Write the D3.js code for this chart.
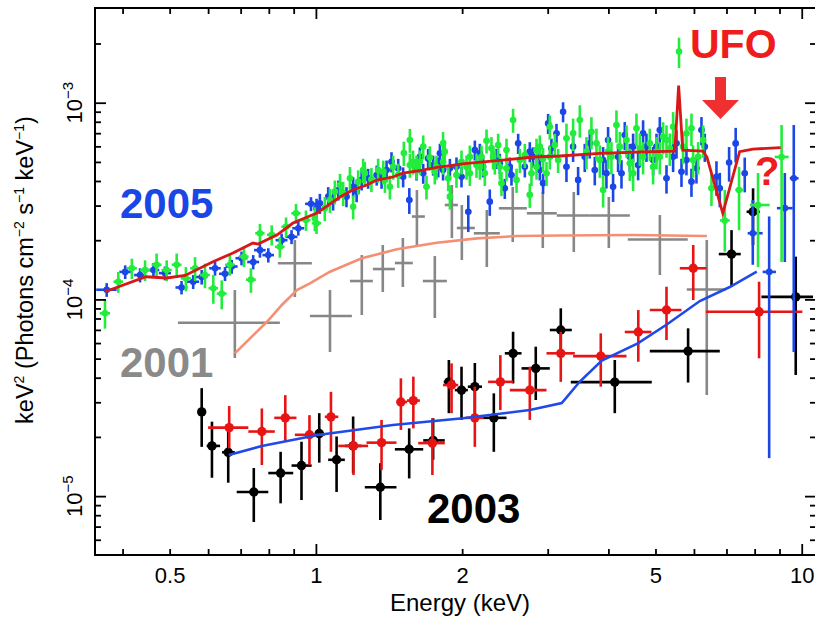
<!DOCTYPE html>
<html>
<head>
<meta charset="utf-8">
<script src="https://cdn.jsdelivr.net/npm/d3@7"></script>
<style>
  body { margin: 0; background: #ffffff; }
  svg { display: block; }
  text { font-family: "Liberation Sans", Arial, Helvetica, sans-serif; }
</style>
</head>
<body>
<svg id="chart" width="815" height="618"></svg>
<script>
// ---------------------------------------------------------------
// Unfolded X-ray spectra, E^2 f(E) (keV^2 photons cm^-2 s^-1 keV^-1)
// ---------------------------------------------------------------

// Axis tick values
const xMajorTicks = [1, 10];
const xMinorTicks = [0.4, 0.5, 0.6, 0.7, 0.8, 0.9, 2, 3, 4, 5, 6, 7, 8, 9];
const xTickLabels = [0.5, 1, 2, 5, 10];
const yMajorTicks = [1e-5, 1e-4, 1e-3];
const yMinorTicks = [6e-6, 7e-6, 8e-6, 9e-6, 2e-5, 3e-5, 4e-5, 5e-5, 6e-5, 7e-5, 8e-5, 9e-5,
                     2e-4, 3e-4, 4e-4, 5e-4, 6e-4, 7e-4, 8e-4, 9e-4, 2e-3];
const yTickExponents = [-5, -4, -3];

// 2005 observation, first camera: [E keV, flux, flux error, E half-width]
const blue05 = [
  [0.371, 1.12e-4, 9e-6, 0.018], [0.405, 1.38e-4, 1.1e-5, 0.011], [0.4345, 1.33e-4, 1.1e-5, 0.012],
  [0.463, 1.41e-4, 1.2e-5, 0.013], [0.489, 1.36e-4, 1.1e-5, 0.014], [0.529, 1.15e-4, 9e-6, 0.015],
  [0.559, 1.23e-4, 1.0e-5, 0.016], [0.582, 1.30e-4, 1.1e-5, 0.016], [0.620, 1.44e-4, 1.2e-5, 0.017],
  [0.650, 1.35e-4, 1.1e-5, 0.018], [0.671, 1.47e-4, 1.2e-5, 0.019], [0.703, 1.62e-4, 1.3e-5, 0.020],
  [0.743, 1.55e-4, 1.3e-5, 0.021], [0.767, 1.78e-4, 1.5e-5, 0.021], [0.798, 1.68e-4, 1.4e-5, 0.022],
  [0.850, 2.00e-4, 1.6e-5, 0.024], [0.891, 2.08e-4, 1.7e-5, 0.025], [0.920, 2.30e-4, 1.9e-5, 0.026],
  [0.977, 3.06e-4, 2.5e-5, 0.027], [1.003, 2.91e-4, 3.4e-5, 0.014], [1.019, 3.08e-4, 3.6e-5, 0.014],
  [1.060, 3.33e-4, 3.9e-5, 0.015], [1.085, 3.20e-4, 3.7e-5, 0.015], [1.112, 3.60e-4, 4.2e-5, 0.016],
  [1.156, 3.33e-4, 3.9e-5, 0.016], [1.193, 3.74e-4, 4.4e-5, 0.017], [1.213, 3.53e-4, 4.1e-5, 0.017],
  [1.242, 4.05e-4, 4.7e-5, 0.017], [1.281, 4.13e-4, 4.8e-5, 0.018], [1.334, 4.29e-4, 5.0e-5, 0.019],
  [1.365, 4.13e-4, 4.8e-5, 0.019], [1.398, 4.55e-4, 5.3e-5, 0.020], [1.431, 5.01e-4, 5.9e-5, 0.020],
  [1.477, 4.64e-4, 5.4e-5, 0.021], [1.512, 4.20e-4, 4.9e-5, 0.021], [1.557, 3.20e-4, 4.8e-5, 0.022],
  [1.611, 4.55e-4, 5.3e-5, 0.023], [1.637, 5.31e-4, 6.2e-5, 0.023], [1.663, 4.38e-4, 5.1e-5, 0.023],
  [1.702, 5.21e-4, 6.1e-5, 0.024], [1.743, 4.82e-4, 5.6e-5, 0.024], [1.786, 4.72e-4, 5.5e-5, 0.025],
  [1.800, 5.53e-4, 6.5e-5, 0.025], [1.827, 4.55e-4, 5.3e-5, 0.026], [1.887, 4.64e-4, 5.4e-5, 0.026],
  [1.947, 4.72e-4, 5.5e-5, 0.027], [1.994, 4.20e-4, 4.9e-5, 0.028], [2.059, 2.79e-4, 5.9e-5, 0.029],
  [2.124, 5.75e-4, 6.7e-5, 0.030], [2.175, 5.53e-4, 6.5e-5, 0.030], [2.209, 4.72e-4, 5.5e-5, 0.031],
  [2.280, 3.14e-4, 4.8e-5, 0.032], [2.354, 5.21e-4, 6.1e-5, 0.033], [2.391, 4.92e-4, 5.8e-5, 0.033],
  [2.448, 3.67e-4, 4.3e-5, 0.034], [2.507, 4.72e-4, 5.5e-5, 0.035], [2.527, 4.29e-4, 5.0e-5, 0.035],
  [2.608, 6.22e-4, 7.3e-5, 0.037], [2.692, 4.72e-4, 5.5e-5, 0.038], [2.756, 5.64e-4, 6.6e-5, 0.039],
  [2.799, 5.31e-4, 6.2e-5, 0.039], [2.890, 5.31e-4, 6.2e-5, 0.040], [2.890, 4.55e-4, 5.3e-5, 0.040],
  [2.935, 3.90e-4, 4.6e-5, 0.041], [3.006, 7.85e-4, 9.2e-5, 0.042], [3.054, 5.87e-4, 6.9e-5, 0.043],
  [3.128, 6.99e-4, 8.2e-5, 0.044], [3.227, 9.00e-4, 1.05e-4, 0.045], [3.279, 4.72e-4, 7.7e-5, 0.046],
  [3.384, 5.98e-4, 9.8e-5, 0.047], [3.465, 4.05e-4, 6.6e-5, 0.049], [3.576, 5.31e-4, 8.7e-5, 0.050],
  [3.662, 6.22e-4, 1.02e-4, 0.051], [3.750, 4.55e-4, 7.5e-5, 0.053], [3.901, 5.11e-4, 8.4e-5, 0.055],
  [3.963, 4.38e-4, 7.2e-5, 0.055], [3.994, 6.46e-4, 1.06e-4, 0.056], [4.090, 3.74e-4, 6.1e-5, 0.057],
  [4.188, 5.31e-4, 8.7e-5, 0.059], [4.256, 4.38e-4, 7.2e-5, 0.060], [4.323, 6.85e-4, 1.12e-4, 0.061],
  [4.427, 5.31e-4, 8.7e-5, 0.062], [4.497, 5.98e-4, 9.8e-5, 0.063], [4.605, 4.82e-4, 7.9e-5, 0.064],
  [4.715, 6.99e-4, 1.15e-4, 0.066], [4.791, 5.98e-4, 9.8e-5, 0.067], [4.944, 5.11e-4, 8.4e-5, 0.069],
  [5.024, 5.98e-4, 9.8e-5, 0.070], [5.104, 7.26e-4, 1.19e-4, 0.071], [5.268, 4.13e-4, 6.8e-5, 0.074],
  [5.436, 5.31e-4, 8.7e-5, 0.076], [5.524, 6.22e-4, 1.02e-4, 0.077], [5.656, 4.46e-4, 7.3e-5, 0.079],
  [5.791, 5.11e-4, 8.4e-5, 0.081], [5.930, 3.97e-4, 6.5e-5, 0.083], [6.072, 4.64e-4, 7.6e-5, 0.085],
  [6.218, 7.26e-4, 1.19e-4, 0.087], [6.317, 5.98e-4, 9.8e-5, 0.088], [6.676, 4.20e-4, 8.4e-5, 0.093],
  [6.782, 3.67e-4, 7.3e-5, 0.095], [7.088, 4.96e-4, 9.9e-5, 0.099], [7.312, 6.21e-4, 1.24e-4, 0.102],
  [7.633, 4.38e-4, 8.8e-5, 0.107]
];
// 2005 first camera, wide high-energy bins: [E, E low, E high, flux, flux low, flux high]
const blue05Tail = [
  [7.93, 7.74, 8.31, 2.17e-4, 1.50e-4, 3.20e-4],
  [8.57, 8.31, 8.85, 1.38e-4, 1.56e-5, 2.64e-4],
  [9.23, 8.89, 9.58, 2.91e-4, 1.55e-4, 4.39e-4],
  [9.63, 9.45, 9.85, 4.13e-4, 5.40e-5, 7.70e-4]
];

// 2005 observation, second camera: [E keV, flux, flux error, E half-width]
const green05 = [
  [0.368, 8.5e-5, 1.4e-5, 0.009], [0.392, 1.23e-4, 1.5e-5, 0.009], [0.418, 1.44e-4, 1.7e-5, 0.010],
  [0.445, 1.41e-4, 1.7e-5, 0.011], [0.470, 1.50e-4, 2.1e-5, 0.011], [0.493, 1.41e-4, 1.7e-5, 0.012],
  [0.517, 1.50e-4, 2.1e-5, 0.012], [0.540, 1.28e-4, 1.8e-5, 0.013], [0.564, 1.44e-4, 2.0e-5, 0.013],
  [0.591, 1.33e-4, 1.9e-5, 0.014], [0.615, 1.14e-4, 1.9e-5, 0.014], [0.640, 1.07e-4, 1.8e-5, 0.015],
  [0.665, 1.50e-4, 1.8e-5, 0.015], [0.711, 1.65e-4, 1.9e-5, 0.016], [0.735, 1.26e-4, 1.8e-5, 0.017],
  [0.767, 2.17e-4, 2.5e-5, 0.017], [0.811, 2.13e-4, 2.5e-5, 0.018], [0.843, 1.85e-4, 2.2e-5, 0.019],
  [0.868, 2.34e-4, 2.7e-5, 0.019], [0.910, 2.74e-4, 3.2e-5, 0.020], [0.954, 2.53e-4, 3.0e-5, 0.021],
  [1.003, 2.44e-4, 2.9e-5, 0.022], [0.995, 2.58e-4, 3.6e-5, 0.014], [1.043, 2.91e-4, 4.1e-5, 0.015],
  [1.069, 3.20e-4, 4.5e-5, 0.015], [1.094, 3.53e-4, 4.9e-5, 0.015], [1.121, 3.82e-4, 5.3e-5, 0.016],
  [1.138, 3.47e-4, 4.9e-5, 0.016], [1.175, 4.13e-4, 5.8e-5, 0.016], [1.193, 2.96e-4, 4.1e-5, 0.017],
  [1.222, 3.97e-4, 5.6e-5, 0.017], [1.251, 4.55e-4, 6.4e-5, 0.018], [1.261, 4.38e-4, 6.1e-5, 0.018],
  [1.301, 4.08e-4, 5.7e-5, 0.018], [1.343, 4.55e-4, 6.4e-5, 0.019], [1.376, 4.46e-4, 6.2e-5, 0.019],
  [1.387, 4.05e-4, 5.7e-5, 0.019], [1.420, 3.74e-4, 5.2e-5, 0.020], [1.442, 4.72e-4, 6.6e-5, 0.020],
  [1.477, 4.29e-4, 6.0e-5, 0.021], [1.517, 5.55e-4, 7.8e-5, 0.021], [1.561, 4.82e-4, 6.7e-5, 0.022],
  [1.561, 6.46e-4, 9.0e-5, 0.022], [1.585, 5.01e-4, 7.0e-5, 0.022], [1.611, 4.72e-4, 6.6e-5, 0.023],
  [1.637, 5.01e-4, 7.0e-5, 0.023], [1.663, 5.98e-4, 8.4e-5, 0.023], [1.689, 3.74e-4, 5.2e-5, 0.024],
  [1.716, 5.26e-4, 7.4e-5, 0.024], [1.757, 4.46e-4, 6.2e-5, 0.025], [1.771, 4.72e-4, 6.6e-5, 0.025],
  [1.827, 5.01e-4, 7.0e-5, 0.026], [1.827, 6.22e-4, 8.7e-5, 0.026], [1.842, 5.64e-4, 7.9e-5, 0.026],
  [1.872, 4.13e-4, 5.8e-5, 0.026], [1.887, 3.33e-4, 4.7e-5, 0.026], [1.947, 4.29e-4, 6.0e-5, 0.027],
  [1.994, 5.01e-4, 7.0e-5, 0.028], [2.042, 4.72e-4, 6.6e-5, 0.029], [2.074, 4.38e-4, 6.1e-5, 0.029],
  [2.074, 5.31e-4, 7.4e-5, 0.029], [2.141, 4.82e-4, 6.7e-5, 0.030], [2.175, 4.72e-4, 6.6e-5, 0.030],
  [2.192, 5.31e-4, 7.4e-5, 0.031], [2.227, 4.38e-4, 6.1e-5, 0.031], [2.245, 6.41e-4, 9.0e-5, 0.031],
  [2.298, 5.87e-4, 8.2e-5, 0.032], [2.316, 5.31e-4, 7.4e-5, 0.032], [2.335, 5.01e-4, 7.0e-5, 0.033],
  [2.372, 6.10e-4, 8.5e-5, 0.033], [2.391, 4.72e-4, 6.6e-5, 0.033], [2.410, 3.90e-4, 5.5e-5, 0.034],
  [2.468, 4.64e-4, 6.5e-5, 0.035], [2.468, 5.75e-4, 8.1e-5, 0.035], [2.546, 8.17e-4, 1.14e-4, 0.036],
  [2.588, 4.05e-4, 5.7e-5, 0.036], [2.629, 5.11e-4, 7.2e-5, 0.037], [2.692, 5.42e-4, 7.6e-5, 0.038],
  [2.756, 3.40e-4, 4.8e-5, 0.039], [2.778, 4.38e-4, 6.1e-5, 0.039], [2.845, 4.72e-4, 6.6e-5, 0.040],
  [2.845, 5.75e-4, 8.1e-5, 0.040], [2.890, 5.98e-4, 8.4e-5, 0.040], [2.935, 5.17e-4, 7.2e-5, 0.041],
  [2.983, 4.38e-4, 6.1e-5, 0.042], [3.030, 7.55e-4, 1.06e-4, 0.042], [3.030, 5.31e-4, 7.4e-5, 0.042],
  [3.103, 6.10e-4, 8.5e-5, 0.043], [3.152, 5.11e-4, 7.2e-5, 0.044], [3.279, 6.59e-4, 1.23e-4, 0.046],
  [3.384, 6.99e-4, 1.31e-4, 0.047], [3.493, 8.17e-4, 1.53e-4, 0.049], [3.605, 5.64e-4, 1.05e-4, 0.050],
  [3.691, 7.11e-4, 1.33e-4, 0.052], [3.780, 6.22e-4, 1.16e-4, 0.053], [3.840, 5.11e-4, 9.6e-5, 0.054],
  [3.901, 3.60e-4, 6.7e-5, 0.055], [3.994, 5.64e-4, 1.05e-4, 0.056], [4.058, 5.31e-4, 9.9e-5, 0.057],
  [4.156, 7.70e-4, 1.44e-4, 0.058], [4.222, 5.98e-4, 1.12e-4, 0.059], [4.358, 6.46e-4, 1.21e-4, 0.061],
  [4.427, 4.92e-4, 9.2e-5, 0.062], [4.497, 4.38e-4, 8.2e-5, 0.063], [4.569, 7.41e-4, 1.39e-4, 0.064],
  [4.642, 5.87e-4, 1.10e-4, 0.065], [4.715, 5.31e-4, 9.9e-5, 0.066], [4.867, 6.22e-4, 1.16e-4, 0.068],
  [4.944, 4.72e-4, 8.8e-5, 0.069], [5.024, 5.64e-4, 1.05e-4, 0.070], [5.104, 5.31e-4, 9.9e-5, 0.071],
  [5.184, 6.71e-4, 1.25e-4, 0.073], [5.268, 6.46e-4, 1.21e-4, 0.074], [5.351, 5.87e-4, 1.10e-4, 0.075],
  [5.436, 7.55e-4, 1.41e-4, 0.076], [5.59, 1.82e-3, 3.2e-4, 0.078], [5.699, 5.98e-4, 1.12e-4, 0.080],
  [5.791, 6.99e-4, 1.31e-4, 0.081], [5.930, 7.41e-4, 1.39e-4, 0.083], [5.976, 5.11e-4, 9.6e-5, 0.084],
  [6.120, 5.31e-4, 9.9e-5, 0.086], [6.267, 6.46e-4, 1.21e-4, 0.088], [6.520, 3.67e-4, 6.9e-5, 0.091]
];
// 2005 second camera, wide high-energy bins: [E, E low, E high, flux, flux low, flux high]
const green05Tail = [
  [6.945, 6.79, 7.11, 2.52e-4, 1.75e-4, 3.60e-4],
  [7.43, 7.30, 7.60, 3.60e-4, 2.25e-4, 4.72e-4],
  [8.13, 7.82, 8.59, 3.02e-4, 1.46e-4, 4.39e-4],
  [9.09, 8.80, 9.40, 5.30e-4, 1.55e-4, 7.70e-4]
];

// 2001 observation: [E, E low, E high, flux, flux low, flux high]
const gray01 = [
  [0.681, 0.520, 0.843, 7.61e-5, 5.04e-5, 1.116e-4],
  [0.905, 0.835, 0.981, 1.526e-4, 1.028e-4, 2.004e-4],
  [1.069, 0.972, 1.186, 8.23e-5, 5.40e-5, 1.116e-4],
  [1.243, 1.175, 1.310, 1.240e-4, 8.33e-5, 1.681e-4],
  [1.373, 1.310, 1.454, 1.427e-4, 1.091e-4, 1.891e-4],
  [1.510, 1.454, 1.583, 1.531e-4, 1.156e-4, 2.051e-4],
  [1.614, 1.576, 1.676, 2.638e-4, 1.891e-4, 3.598e-4],
  [1.757, 1.660, 1.860, 1.240e-4, 8.04e-5, 1.661e-4],
  [1.905, 1.842, 1.960, 3.020e-4, 2.051e-4, 3.816e-4],
  [1.997, 1.950, 2.124, 2.307e-4, 1.586e-4, 3.020e-4],
  [2.248, 2.114, 2.391, 2.168e-4, 1.461e-4, 2.848e-4],
  [2.542, 2.380, 2.718, 2.905e-4, 1.958e-4, 3.727e-4],
  [2.931, 2.718, 3.132, 2.740e-4, 1.825e-4, 3.516e-4],
  [3.395, 3.132, 3.663, 2.670e-4, 1.742e-4, 3.516e-4],
  [4.008, 3.663, 4.428, 2.670e-4, 1.825e-4, 3.317e-4],
  [5.105, 4.385, 5.827, 2.016e-4, 1.331e-4, 2.685e-4],
  [6.376, 5.800, 6.977, 1.123e-4, 3.266e-5, 2.004e-4]
];

// 2003 observation, first camera: [E, E low, E high, flux, flux low, flux high]
const black03 = [
  [0.582, 0.574, 0.590, 2.68e-5, 1.78e-5, 3.54e-5],
  [0.611, 0.596, 0.635, 1.80e-5, 1.24e-5, 2.39e-5],
  [0.660, 0.641, 0.681, 1.67e-5, 1.17e-5, 2.17e-5],
  [0.745, 0.687, 0.798, 1.05e-5, 7.39e-6, 1.39e-5],
  [0.846, 0.798, 0.898, 1.31e-5, 9.19e-6, 1.68e-5],
  [0.934, 0.891, 0.980, 1.43e-5, 9.55e-6, 1.89e-5],
  [1.016, 0.995, 1.038, 2.08e-5, 1.48e-5, 2.64e-5],
  [1.103, 1.060, 1.147, 1.53e-5, 1.05e-5, 2.01e-5],
  [1.193, 1.147, 1.242, 1.80e-5, 1.31e-5, 2.54e-5],
  [1.357, 1.261, 1.465, 1.11e-5, 7.56e-6, 1.47e-5],
  [1.556, 1.454, 1.663, 1.73e-5, 1.23e-5, 2.21e-5],
  [1.743, 1.663, 1.842, 1.92e-5, 1.53e-5, 2.49e-5],
  [1.878, 1.833, 1.932, 3.81e-5, 2.64e-5, 4.92e-5],
  [1.994, 1.932, 2.055, 3.46e-5, 2.44e-5, 4.55e-5],
  [2.124, 2.055, 2.197, 3.60e-5, 2.44e-5, 4.75e-5],
  [2.324, 2.206, 2.468, 2.50e-5, 1.68e-5, 3.33e-5],
  [2.546, 2.448, 2.650, 5.32e-5, 3.74e-5, 6.85e-5],
  [2.835, 2.650, 3.030, 4.46e-5, 3.08e-5, 5.75e-5],
  [3.192, 3.030, 3.363, 6.99e-5, 5.09e-5, 9.01e-5],
  [4.123, 3.347, 4.913, 3.80e-5, 2.64e-5, 4.92e-5],
  [5.836, 4.867, 6.782, 5.46e-5, 3.78e-5, 7.13e-5],
  [7.17, 6.75, 7.49, 1.70e-4, 1.157e-4, 2.25e-4],
  [7.94, 7.70, 8.20, 2.79e-4, 1.89e-4, 3.67e-4],
  [9.72, 8.26, 10.55, 1.03e-4, 4.13e-5, 1.65e-4]
];

// 2003 observation, second camera: [E, E low, E high, flux, flux low, flux high]
const red03 = [
  [0.663, 0.600, 0.726, 2.23e-5, 1.75e-5, 2.87e-5],
  [0.774, 0.726, 0.823, 2.13e-5, 1.44e-5, 2.79e-5],
  [0.865, 0.821, 0.912, 2.50e-5, 1.89e-5, 3.26e-5],
  [0.970, 0.905, 1.043, 2.05e-5, 1.44e-5, 2.58e-5],
  [1.074, 1.043, 1.112, 2.53e-5, 1.68e-5, 3.39e-5],
  [1.195, 1.112, 1.281, 1.80e-5, 1.28e-5, 2.21e-5],
  [1.365, 1.271, 1.465, 1.87e-5, 1.36e-5, 2.44e-5],
  [1.496, 1.465, 1.540, 3.01e-5, 2.17e-5, 3.97e-5],
  [1.587, 1.540, 1.637, 3.06e-5, 2.21e-5, 4.05e-5],
  [1.737, 1.624, 1.842, 1.86e-5, 1.28e-5, 2.49e-5],
  [1.902, 1.827, 1.963, 3.67e-5, 2.64e-5, 4.73e-5],
  [2.124, 2.036, 2.217, 2.50e-5, 1.78e-5, 3.60e-5],
  [2.397, 2.262, 2.546, 3.81e-5, 2.74e-5, 5.21e-5],
  [2.756, 2.507, 2.983, 3.46e-5, 2.44e-5, 4.55e-5],
  [3.192, 2.983, 3.411, 5.32e-5, 3.81e-5, 6.85e-5],
  [3.858, 3.384, 4.358, 5.15e-5, 3.60e-5, 6.72e-5],
  [4.609, 4.323, 4.905, 6.83e-5, 4.82e-5, 8.83e-5],
  [5.268, 4.867, 5.656, 8.83e-5, 6.22e-5, 1.16e-4],
  [5.98, 5.611, 6.368, 1.44e-4, 9.93e-5, 1.89e-4],
  [8.17, 6.35, 10.03, 8.65e-5, 5.02e-5, 1.23e-4]
];

// Folded best-fit models: [E keV, E^2 f(E)]
const model05 = [
  [0.368, 1.094e-4], [0.447, 1.304e-4], [0.493, 1.285e-4], [0.538, 1.323e-4], [0.614, 1.555e-4],
  [0.675, 1.722e-4], [0.742, 1.935e-4], [0.760, 1.912e-4], [0.831, 2.125e-4], [0.897, 2.445e-4],
  [1.005, 2.749e-4], [1.121, 3.317e-4], [1.191, 3.598e-4], [1.273, 3.816e-4], [1.335, 4.046e-4],
  [1.440, 4.19e-4], [1.510, 4.39e-4], [1.637, 4.52e-4], [1.774, 4.693e-4], [2.045, 4.918e-4],
  [2.425, 5.11e-4], [2.796, 5.296e-4], [3.177, 5.358e-4], [3.840, 5.53e-4], [4.642, 5.615e-4],
  [5.48, 5.68e-4], [5.58, 1.223e-3], [5.69, 5.746e-4], [6.26, 5.68e-4], [6.38, 5.296e-4],
  [6.88, 2.74e-4], [7.45, 5.637e-4], [7.93, 5.815e-4], [9.05, 5.904e-4]
];
const model01 = [
  [0.681, 5.32e-5], [0.793, 7.70e-5], [0.851, 9.37e-5], [0.914, 1.116e-4], [0.972, 1.207e-4],
  [1.069, 1.383e-4], [1.243, 1.618e-4], [1.468, 1.798e-4], [1.774, 1.942e-4], [2.145, 2.044e-4],
  [2.593, 2.100e-4], [3.177, 2.113e-4], [4.49, 2.125e-4], [6.38, 2.100e-4]
];
const model03 = [
  [0.662, 1.618e-5], [0.774, 1.797e-5], [1.009, 2.044e-5], [1.440, 2.298e-5], [2.007, 2.486e-5],
  [2.756, 2.74e-5], [3.207, 2.973e-5], [3.494, 3.825e-5], [3.877, 4.89e-5], [4.598, 5.98e-5],
  [5.275, 7.455e-5], [6.17, 9.81e-5], [7.11, 1.156e-4], [8.08, 1.383e-4]
];

// ---------------------------------------------------------------
const svg = d3.select("#chart");
const plot = { left: 95, top: 8, right: 816, bottom: 555 };

const x = d3.scaleLog().domain([0.351, 10.7]).range([plot.left, plot.right]);
const y = d3.scaleLog().domain([5.02e-6, 3.03e-3]).range([plot.bottom, plot.top]);

svg.append("rect").attr("width", 815).attr("height", 618).attr("fill", "#ffffff");

svg.append("defs").append("clipPath").attr("id", "plotclip")
  .append("rect")
  .attr("x", plot.left).attr("y", plot.top)
  .attr("width", plot.right - plot.left).attr("height", plot.bottom - plot.top);

const dataLayer = svg.append("g").attr("clip-path", "url(#plotclip)");

const fromSym = r => ({ e: r[0], el: r[0] - r[3], eh: r[0] + r[3], f: r[1], fl: r[1] - r[2], fh: r[1] + r[2] });
const fromFull = r => ({ e: r[0], el: r[1], eh: r[2], f: r[3], fl: r[4], fh: r[5] });

function drawSeries(rows, toPoint, color, radius, width) {
  const pts = rows.map(toPoint);
  const g = dataLayer.append("g").attr("stroke", color).attr("stroke-width", width);
  g.selectAll("line.ev").data(pts).join("line").attr("class", "ev")
    .attr("x1", d => x(d.e)).attr("x2", d => x(d.e))
    .attr("y1", d => y(d.fh)).attr("y2", d => y(d.fl));
  g.selectAll("line.eh").data(pts).join("line").attr("class", "eh")
    .attr("x1", d => x(d.el)).attr("x2", d => x(d.eh))
    .attr("y1", d => y(d.f)).attr("y2", d => y(d.f));
  if (radius > 0) {
    g.selectAll("circle").data(pts).join("circle")
      .attr("cx", d => x(d.e)).attr("cy", d => y(d.f)).attr("r", radius)
      .attr("fill", color).attr("stroke", "none");
  }
}

function drawModel(rows, color, width) {
  const line = d3.line().x(d => x(d[0])).y(d => y(d[1]));
  dataLayer.append("path").datum(rows).attr("d", line)
    .attr("fill", "none").attr("stroke", color).attr("stroke-width", width)
    .attr("stroke-linejoin", "miter");
}

const C = {
  blue: "#1b47e6", green: "#22ec3c", red: "#e81414", model05: "#d81818",
  salmon: "#f48f74", gray: "#878787", black: "#000000", model03: "#1f4ae8"
};

// 2001
drawSeries(gray01, fromFull, C.gray, 0, 2.6);
drawModel(model01, C.salmon, 2.6);
// 2003
drawSeries(black03, fromFull, C.black, 4.7, 2.6);
drawSeries(red03, fromFull, C.red, 4.7, 2.6);
drawModel(model03, C.model03, 2.6);
// 2005
drawSeries(blue05, fromSym, C.blue, 3.3, 2.6);
drawSeries(blue05Tail, fromFull, C.blue, 3.3, 2.6);
drawSeries(green05, fromSym, C.green, 3.3, 2.6);
drawSeries(green05Tail, fromFull, C.green, 3.3, 2.6);
drawModel(model05, C.model05, 2.8);

// ---------------------------------------------------------------
// Frame and ticks (all ticks point inward)
svg.append("rect")
  .attr("x", plot.left).attr("y", plot.top)
  .attr("width", plot.right - plot.left).attr("height", plot.bottom - plot.top)
  .attr("fill", "none").attr("stroke", "#000").attr("stroke-width", 2);

function tickAxis(axis, transform) {
  svg.append("g").attr("transform", transform).call(axis)
    .call(g => g.select(".domain").remove())
    .call(g => g.selectAll(".tick line").attr("stroke", "#000").attr("stroke-width", 1.8))
    .call(g => g.selectAll(".tick text").remove());
}
tickAxis(d3.axisBottom(x).tickValues(xMajorTicks).tickSize(-11), `translate(0,${plot.bottom})`);
tickAxis(d3.axisBottom(x).tickValues(xMinorTicks).tickSize(-6), `translate(0,${plot.bottom})`);
tickAxis(d3.axisTop(x).tickValues(xMajorTicks).tickSize(-11), `translate(0,${plot.top})`);
tickAxis(d3.axisTop(x).tickValues(xMinorTicks).tickSize(-6), `translate(0,${plot.top})`);
tickAxis(d3.axisLeft(y).tickValues(yMajorTicks).tickSize(-11), `translate(${plot.left},0)`);
tickAxis(d3.axisLeft(y).tickValues(yMinorTicks).tickSize(-6), `translate(${plot.left},0)`);
tickAxis(d3.axisRight(y).tickValues(yMajorTicks).tickSize(-11), `translate(${plot.right},0)`);
tickAxis(d3.axisRight(y).tickValues(yMinorTicks).tickSize(-6), `translate(${plot.right},0)`);

// X tick labels
svg.append("g").attr("transform", `translate(0,${plot.bottom})`)
  .call(d3.axisBottom(x).tickValues(xTickLabels).tickSize(0).tickPadding(12)
    .tickFormat(d => String(d)))
  .call(g => g.select(".domain").remove())
  .call(g => g.selectAll(".tick text")
    .attr("font-family", "'Liberation Sans', Arial, Helvetica, sans-serif")
    .attr("font-size", 22).attr("fill", "#000"));

// Y tick labels: 10^n, rotated
const yl = svg.append("g");
yMajorTicks.forEach((v, i) => {
  const t = yl.append("text")
    .attr("transform", `translate(82,${y(v)}) rotate(-90)`)
    .attr("text-anchor", "middle")
    .attr("font-size", 22).attr("fill", "#000");
  t.append("tspan").text("10");
  t.append("tspan").attr("dy", -9).attr("font-size", 15).text("\u2212" + Math.abs(yTickExponents[i]));
});

// Axis titles
svg.append("text")
  .attr("x", 460).attr("y", 611)
  .attr("text-anchor", "middle").attr("font-size", 24).attr("fill", "#000")
  .text("Energy (keV)");

const yt = svg.append("text")
  .attr("transform", `translate(33,270) rotate(-90)`)
  .attr("text-anchor", "middle").attr("font-size", 23.5).attr("fill", "#000");
yt.append("tspan").text("keV");
yt.append("tspan").attr("dy", -9).attr("font-size", 14).text("2");
yt.append("tspan").attr("dy", 9).text(" (Photons cm");
yt.append("tspan").attr("dy", -9).attr("font-size", 14).text("\u22122");
yt.append("tspan").attr("dy", 9).text(" s");
yt.append("tspan").attr("dy", -9).attr("font-size", 14).text("\u22121");
yt.append("tspan").attr("dy", 9).text(" keV");
yt.append("tspan").attr("dy", -9).attr("font-size", 14).text("\u22121");
yt.append("tspan").attr("dy", 9).text(")");

// Epoch labels and absorption annotation
const boldLabel = (txt, px, py, size, color) =>
  svg.append("text").attr("x", px).attr("y", py)
    .attr("font-size", size).attr("font-weight", "bold").attr("fill", color).text(txt);
boldLabel("2005", 120, 218, 42, "#1a46e6");
boldLabel("2001", 120, 377, 42, "#8a8a8a");
boldLabel("2003", 427, 523, 42, "#000000");
boldLabel("UFO", 690, 58, 41, "#ee1c1c");
boldLabel("?", 755, 185, 40, "#ee1c1c");

// Arrow pointing at the absorption trough
svg.append("path")
  .attr("d", "M715,77 L726,77 L726,100 L739,100 L720.5,119 L702,100 L715,100 Z")
  .attr("fill", "#f03030");
</script>
</body>
</html>
